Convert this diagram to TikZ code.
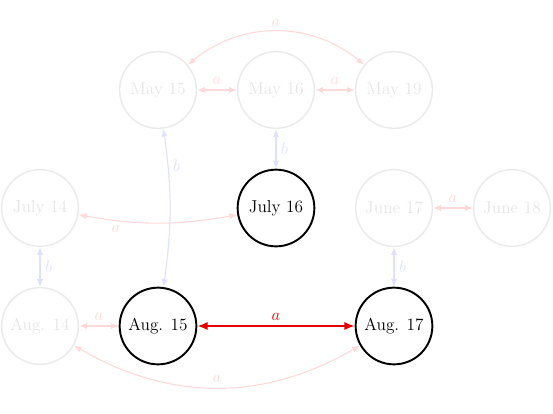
\documentclass[tikz,border=0pt]{standalone}
\usetikzlibrary{arrows.meta}
\begin{document}
\begin{tikzpicture}[x=0.025424cm, y=-0.025424cm,
  font=\fontsize{12.5}{15}\selectfont,
  day/.style={circle, draw=black!8, line width=1.1pt, text=black!10,
    minimum size=1.95cm, inner sep=0pt},
  dayon/.style={day, draw=black, line width=1.4pt, text=black},
  rela/.style={color=red!15, line width=0.8pt, {Latex[length=2mm,width=1.6mm]}-{Latex[length=2mm,width=1.6mm]}},
  relb/.style={color=blue!12, line width=0.8pt, {Latex[length=2mm,width=1.6mm]}-{Latex[length=2mm,width=1.6mm]}},
  relon/.style={color=red!90!black, line width=1.3pt, {Latex[length=2.6mm,width=2.1mm]}-{Latex[length=2.6mm,width=2.1mm]}}
]
\useasboundingbox (0,0) rectangle (553,413);

% days
\node[day]   (may15)  at (158,90)  {May 15};
\node[day]   (may16)  at (276,90)  {May 16};
\node[day]   (may19)  at (394,90)  {May 19};
\node[day]   (jul14)  at (40,208)  {July 14};
\node[dayon] (jul16)  at (276,208) {July 16};
\node[day]   (jun17)  at (394,208) {June 17};
\node[day]   (jun18)  at (512,208) {June 18};
\node[day]   (aug14)  at (40,326)  {Aug. 14};
\node[dayon] (aug15)  at (158,326) {Aug. 15};
\node[dayon] (aug17)  at (394,326) {Aug. 17};

% relation a
\draw[rela] (may15) -- node[above] {$a$} (may16);
\draw[rela] (may16) -- node[above] {$a$} (may19);
\draw[rela] (may15) to[bend left=40] node[above] {$a$} (may19);
\draw[rela] (jul14) to[bend right=10] node[below, pos=0.22] {$a$} (jul16);
\draw[rela] (jun17) -- node[above] {$a$} (jun18);
\draw[rela] (aug14) -- node[above] {$a$} (aug15);
\draw[rela] (aug14) to[bend right=30] node[above] {$a$} (aug17);

% relation b
\draw[relb] (may15) to[bend left=8] node[right, pos=0.22] {$b$} (aug15);
\draw[relb] (may16) -- node[right] {$b$} (jul16);
\draw[relb] (jul14) -- node[right] {$b$} (aug14);
\draw[relb] (jun17) -- node[right] {$b$} (aug17);

% highlighted relation
\draw[relon] (aug15) -- node[above] {$a$} (aug17);
\end{tikzpicture}
\end{document}
